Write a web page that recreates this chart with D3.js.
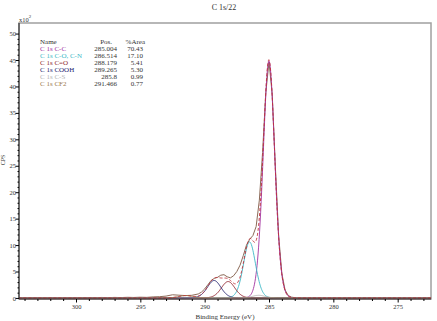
<!DOCTYPE html>
<html>
<head>
<title>C 1s/22</title>
<style>
body { margin: 0; background: #fff; }
svg { display: block; }
text { font-family: "Liberation Serif", "Times New Roman", serif; font-weight: normal; }
</style>
<script src="https://d3js.org/d3.v7.min.js"></script>
</head>
<body>
<svg id="xps" width="437" height="321"></svg>
<script>
// peak fit table (CasaXPS style)
const names = ["C 1s C-C", "C 1s C-O, C-N", "C 1s C=O", "C 1s COOH", "C 1s C-S", "C 1s CF2"];
const posLabels = ["285.004", "286.514", "288.179", "289.265", "285.8", "291.466"];
const areaLabels = ["70.43", "17.10", "5.41", "5.30", "0.99", "0.77"];
const positions = [285.004, 286.514, 288.179, 289.265, 285.8, 291.466];
const heights = [44.8, 10.6, 3.1, 3.3, 0.5, 0.45];   // x10^2 CPS
const fwhms = [1.1, 1.15, 1.3, 1.3, 1.2, 1.3];

const rawBE = [304.4, 304, 303.5, 303, 302.5, 302, 301.5, 301, 300.5, 300, 299.5, 299, 298.5, 298,
  297.5, 297, 296.5, 296, 295.5, 295, 294.5, 294, 293.5, 293, 292.5, 292, 291.5, 291, 290.5,
  290.25, 290, 289.75, 289.5, 289.25, 289, 288.75, 288.5, 288.25, 288, 287.75, 287.5, 287.25,
  287, 286.75, 286.5, 286.25, 286, 285.75, 285.5, 285.25, 285, 284.75, 284.5, 284.25, 284,
  283.75, 283.5, 283.25, 283, 282.5, 282, 281, 280, 279, 278, 277, 276, 275, 274, 273, 272.4];
const rawCPS = [0.03, 0.06, 0.02, 0.07, 0.03, 0.05, 0.02, 0.06, 0.03, 0.05, 0.04, 0.08, 0.05, 0.09,
  0.06, 0.1, 0.07, 0.12, 0.09, 0.14, 0.11, 0.2, 0.24, 0.35, 0.6, 0.52, 0.45, 0.5, 0.75,
  1.1, 1.7, 2.5, 3.3, 3.7, 3.9, 4.3, 4.4, 4.0, 3.8, 4.2, 5.0, 6.2,
  8.0, 10.0, 11.1, 11.8, 13.5, 18.5, 27.5, 38.8, 44.6, 38.5, 24.5, 11.8, 4.6,
  1.5, 0.45, 0.15, 0.06, 0.03, 0.02, 0.01, 0.02, 0.01, 0.0, 0.01, 0.0, 0.01, 0.0, 0.01, 0.0];

const yTicks = [0, 5, 10, 15, 20, 25, 30, 35, 40, 45, 50];
const xTicks = [300, 295, 290, 285, 280, 275];

const colors = ["#a3329f", "#3cb8c6", "#8e1f2a", "#23236e", "#b4b4b4", "#9c7a4c"];

const svg = d3.select("#xps");
const L = 19, R = 431, T = 23, B = 299;

const x = d3.scaleLinear().domain([304.43, 272.41]).range([L, R]);
const y = d3.scaleLinear().domain([-0.2, 52]).range([B, T]);
const color = d3.scaleOrdinal(names, colors);

// frame
svg.append("rect")
    .attr("x", L).attr("y", T)
    .attr("width", R - L).attr("height", B - T)
    .attr("fill", "none")
    .attr("stroke", "#a0a0a0")
    .attr("stroke-width", 1.5);

// Gaussian-Lorentzian product, GL(30)
function gl(e, pos, h, f) {
    const d = (e - pos) / f;
    return h * Math.exp(-4 * Math.LN2 * 0.7 * d * d) / (1 + 4 * 0.3 * d * d);
}

const grid = d3.range(272.41, 304.43, 0.04);
const comps = names.map((n, i) => grid.map(e => [e, gl(e, positions[i], heights[i], fwhms[i])]));
const envelope = grid.map((e, k) => [e, d3.sum(comps, c => c[k][1])]);

const line = d3.line().x(d => x(d[0])).y(d => y(d[1]));

const plot = svg.append("g");

// measured data
plot.append("path")
    .datum(rawBE.map((e, i) => [e, rawCPS[i]]))
    .attr("d", line)
    .attr("fill", "none")
    .attr("stroke", "#8c6a58")
    .attr("stroke-width", 1);

// components
plot.selectAll("path.comp")
    .data(comps)
    .enter()
    .append("path")
    .classed("comp", true)
    .attr("d", line)
    .attr("fill", "none")
    .attr("stroke", (d, i) => color(names[i]))
    .attr("stroke-width", 0.9);

// envelope
plot.append("path")
    .datum(envelope)
    .attr("d", line)
    .attr("fill", "none")
    .attr("stroke", "#c0303a")
    .attr("stroke-width", 0.9)
    .attr("stroke-dasharray", "3,2");

// axes
const yAxis = svg.append("g").attr("transform", `translate(${L},0)`);
yAxis.call(d3.axisLeft(y).tickValues(d3.range(0, 51, 1)).tickSize(1.5).tickFormat(""));
yAxis.call(g => g.selectAll(".tick").filter(d => d % 5 === 0).select("line").attr("x2", -3.5));
yAxis.append("g").call(d3.axisLeft(y).tickValues(yTicks).tickSize(0).tickPadding(3))
    .call(g => g.select(".domain").remove())
    .selectAll("text")
    .style("font-family", "Liberation Serif, serif")
    .style("font-size", "6.5px")
    .attr("fill", "#333");
yAxis.select(".domain").attr("stroke", "#222").attr("d", `M0,${B}V${T}`);

const xAxis = svg.append("g").attr("transform", `translate(0,${B})`);
xAxis.call(d3.axisBottom(x).tickValues(d3.range(273, 305, 1)).tickSize(2).tickFormat(""));
xAxis.call(g => g.selectAll(".tick").filter(d => d % 5 === 0).select("line").attr("y2", 3.5));
xAxis.append("g").call(d3.axisBottom(x).tickValues(xTicks).tickSize(0).tickPadding(5))
    .call(g => g.select(".domain").remove())
    .selectAll("text")
    .style("font-family", "Liberation Serif, serif")
    .style("font-size", "6.5px")
    .attr("fill", "#333");
xAxis.select(".domain").attr("stroke", "#3a2a2a").attr("d", `M${L},0H${R}`);

// titles
svg.append("text")
    .attr("x", 224).attr("y", 10)
    .attr("text-anchor", "middle")
    .attr("fill", "#333")
    .style("font-size", "8px")
    .text("C 1s/22");

svg.append("text")
    .attr("x", 225).attr("y", 319)
    .attr("text-anchor", "middle")
    .attr("fill", "#333")
    .style("font-size", "7px")
    .text("Binding Energy (eV)");

svg.append("text")
    .attr("transform", "translate(5,160) rotate(-90)")
    .attr("text-anchor", "middle")
    .attr("fill", "#333")
    .style("font-size", "6px")
    .text("CPS");

const mult = svg.append("text").attr("x", 19).attr("y", 22).attr("fill", "#333").style("font-size", "6.5px");
mult.append("tspan").text("x10");
mult.append("tspan").attr("dy", -4).style("font-size", "5px").text("2");

// legend table
const leg = svg.append("g").style("font-size", "7px");
const rowY = i => 44 + i * 7;
leg.append("text").attr("x", 40).attr("y", rowY(0)).attr("fill", "#333").text("Name");
leg.append("text").attr("x", 112).attr("y", rowY(0)).attr("text-anchor", "end").attr("fill", "#333").text("Pos.");
leg.append("text").attr("x", 145).attr("y", rowY(0)).attr("text-anchor", "end").attr("fill", "#333").text("%Area");

const rows = leg.selectAll("g.row")
    .data(names)
    .enter()
    .append("g")
    .classed("row", true)
    .attr("fill", d => color(d));
rows.append("text").attr("x", 40).attr("y", (d, i) => rowY(i + 1)).text(d => d);
rows.append("text").attr("x", 117).attr("y", (d, i) => rowY(i + 1))
    .attr("text-anchor", "end").attr("fill", "#333").text((d, i) => posLabels[i]);
rows.append("text").attr("x", 143).attr("y", (d, i) => rowY(i + 1))
    .attr("text-anchor", "end").attr("fill", "#333").text((d, i) => areaLabels[i]);
</script>
</body>
</html>
